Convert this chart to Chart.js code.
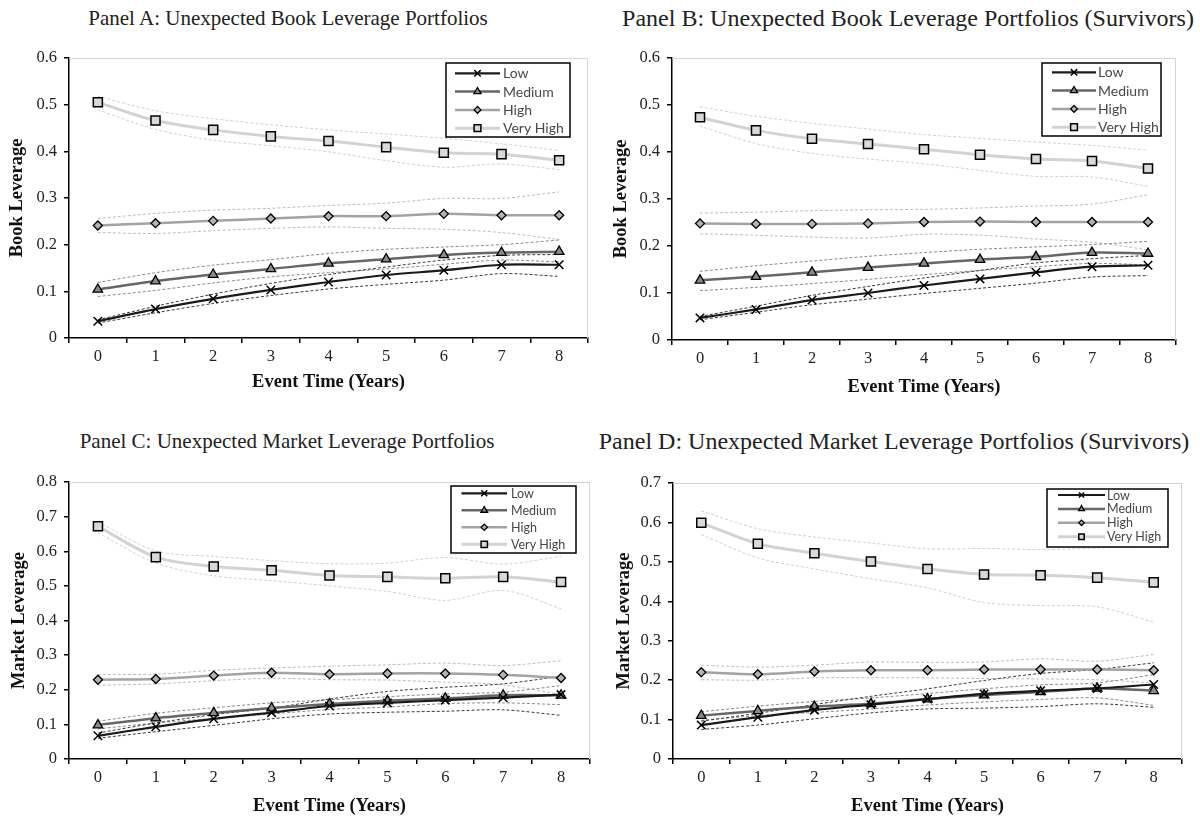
<!DOCTYPE html>
<html>
<head>
<meta charset="utf-8">
<script src="https://cdn.jsdelivr.net/npm/chart.js"></script>
<style>
  body { margin: 0; background: #fff; }
  #page { position: relative; width: 1200px; height: 820px; }
  .panel { position: absolute; width: 600px; height: 410px; }
  .ptitle { position: absolute; font-family: 'Liberation Serif', serif; font-size: 21px; color: #222;
            white-space: nowrap; transform: translate(-50%, -50%); }
  .wide { font-size: 24px; }
</style>
</head>
<body>
<div id="page">
  <div class="ptitle" style="left:288px; top:18px;">Panel A: Unexpected Book Leverage Portfolios</div>
  <div class="ptitle wide" style="left:908px; top:18px;">Panel B: Unexpected Book Leverage Portfolios (Survivors)</div>
  <div class="ptitle" style="left:287px; top:441px;">Panel C: Unexpected Market Leverage Portfolios</div>
  <div class="ptitle wide" style="left:894px; top:441px;">Panel D: Unexpected Market Leverage Portfolios (Survivors)</div>
  <div class="panel" style="left:0; top:0;"><canvas id="chartA" width="600" height="410"></canvas></div>
  <div class="panel" style="left:600px; top:0;"><canvas id="chartB" width="600" height="410"></canvas></div>
  <div class="panel" style="left:0; top:410px;"><canvas id="chartC" width="600" height="410"></canvas></div>
  <div class="panel" style="left:600px; top:410px;"><canvas id="chartD" width="600" height="410"></canvas></div>
</div>
<script>
const years = ['0', '1', '2', '3', '4', '5', '6', '7', '8'];
const seriesNames = ['Low', 'Medium', 'High', 'Very High'];

// Panel A: book leverage
const aLow    = [0.036, 0.062, 0.084, 0.103, 0.120, 0.135, 0.145, 0.157, 0.157];
const aLowUp  = [0.039, 0.068, 0.094, 0.117, 0.136, 0.152, 0.167, 0.177, 0.179];
const aLowDn  = [0.032, 0.054, 0.074, 0.091, 0.105, 0.115, 0.124, 0.138, 0.132];
const aMed    = [0.104, 0.122, 0.136, 0.148, 0.160, 0.169, 0.178, 0.183, 0.185];
const aMedUp  = [0.119, 0.140, 0.156, 0.168, 0.181, 0.190, 0.195, 0.200, 0.210];
const aMedDn  = [0.089, 0.102, 0.118, 0.131, 0.140, 0.148, 0.158, 0.167, 0.163];
const aHigh   = [0.241, 0.246, 0.251, 0.256, 0.261, 0.261, 0.266, 0.263, 0.263];
const aHighUp = [0.256, 0.267, 0.274, 0.278, 0.284, 0.289, 0.299, 0.299, 0.313];
const aHighDn = [0.226, 0.224, 0.230, 0.235, 0.238, 0.235, 0.233, 0.226, 0.211];
const aVH     = [0.505, 0.466, 0.446, 0.432, 0.422, 0.409, 0.397, 0.394, 0.381];
const aVHUp   = [0.518, 0.487, 0.470, 0.457, 0.446, 0.437, 0.428, 0.416, 0.402];
const aVHDn   = [0.489, 0.447, 0.424, 0.412, 0.399, 0.380, 0.366, 0.373, 0.361];

// Panel B: book leverage, survivors
const bLow    = [0.047, 0.065, 0.085, 0.100, 0.116, 0.130, 0.144, 0.156, 0.159];
const bLowUp  = [0.050, 0.072, 0.095, 0.114, 0.132, 0.148, 0.164, 0.173, 0.180];
const bLowDn  = [0.043, 0.059, 0.075, 0.087, 0.099, 0.110, 0.121, 0.134, 0.137];
const bMed    = [0.127, 0.135, 0.144, 0.154, 0.163, 0.171, 0.177, 0.186, 0.184];
const bMedUp  = [0.146, 0.158, 0.168, 0.178, 0.186, 0.193, 0.198, 0.203, 0.210];
const bMedDn  = [0.105, 0.112, 0.120, 0.129, 0.139, 0.148, 0.156, 0.163, 0.160];
const bHigh   = [0.248, 0.247, 0.247, 0.248, 0.251, 0.252, 0.251, 0.251, 0.251];
const bHighUp = [0.270, 0.272, 0.275, 0.277, 0.278, 0.281, 0.285, 0.289, 0.309];
const bHighDn = [0.226, 0.223, 0.219, 0.217, 0.225, 0.223, 0.215, 0.208, 0.192];
const bVH     = [0.474, 0.446, 0.428, 0.417, 0.406, 0.394, 0.385, 0.381, 0.365];
const bVHUp   = [0.496, 0.476, 0.461, 0.449, 0.437, 0.429, 0.421, 0.414, 0.404];
const bVHDn   = [0.455, 0.418, 0.397, 0.385, 0.375, 0.361, 0.348, 0.347, 0.327];

// Panel C: market leverage
const cLow    = [0.067, 0.093, 0.116, 0.134, 0.153, 0.162, 0.170, 0.177, 0.186];
const cLowUp  = [0.075, 0.104, 0.128, 0.147, 0.173, 0.195, 0.207, 0.217, 0.239];
const cLowDn  = [0.060, 0.079, 0.097, 0.116, 0.130, 0.135, 0.138, 0.142, 0.126];
const cMed    = [0.098, 0.118, 0.133, 0.147, 0.159, 0.168, 0.175, 0.184, 0.184];
const cMedUp  = [0.109, 0.132, 0.148, 0.162, 0.171, 0.180, 0.188, 0.193, 0.212];
const cMedDn  = [0.087, 0.104, 0.117, 0.130, 0.143, 0.150, 0.160, 0.162, 0.157];
const cHigh   = [0.229, 0.231, 0.241, 0.249, 0.245, 0.247, 0.247, 0.243, 0.234];
const cHighUp = [0.244, 0.245, 0.256, 0.263, 0.268, 0.272, 0.277, 0.270, 0.284];
const cHighDn = [0.213, 0.217, 0.226, 0.233, 0.229, 0.228, 0.222, 0.214, 0.186];
const cVH     = [0.672, 0.583, 0.556, 0.545, 0.530, 0.526, 0.522, 0.526, 0.511];
const cVHUp   = [0.684, 0.601, 0.585, 0.573, 0.564, 0.566, 0.582, 0.563, 0.585];
const cVHDn   = [0.653, 0.566, 0.529, 0.515, 0.500, 0.484, 0.458, 0.487, 0.434];

// Panel D: market leverage, survivors
const dLow    = [0.086, 0.106, 0.124, 0.138, 0.152, 0.165, 0.173, 0.179, 0.189];
const dLowUp  = [0.096, 0.116, 0.138, 0.159, 0.178, 0.199, 0.217, 0.227, 0.244];
const dLowDn  = [0.075, 0.086, 0.102, 0.117, 0.127, 0.129, 0.133, 0.140, 0.131];
const dMed    = [0.110, 0.122, 0.133, 0.140, 0.152, 0.162, 0.170, 0.179, 0.173];
const dMedUp  = [0.120, 0.134, 0.146, 0.155, 0.166, 0.178, 0.188, 0.193, 0.214];
const dMedDn  = [0.098, 0.110, 0.118, 0.127, 0.137, 0.145, 0.151, 0.155, 0.136];
const dHigh   = [0.220, 0.215, 0.222, 0.225, 0.225, 0.227, 0.227, 0.227, 0.225];
const dHighUp = [0.238, 0.233, 0.238, 0.246, 0.245, 0.246, 0.254, 0.248, 0.265];
const dHighDn = [0.201, 0.200, 0.206, 0.206, 0.206, 0.204, 0.203, 0.201, 0.193];
const dVH     = [0.599, 0.546, 0.522, 0.501, 0.482, 0.468, 0.466, 0.460, 0.448];
const dVHUp   = [0.629, 0.584, 0.563, 0.548, 0.533, 0.534, 0.531, 0.535, 0.539];
const dVHDn   = [0.569, 0.510, 0.482, 0.457, 0.434, 0.397, 0.389, 0.386, 0.347];

// line / marker styles per portfolio
const styles = [
  { line: '#1a1a1a', width: 2.2, band: '#3a3a3a', point: 'crossRot', radius: 6,   fill: '#000',    bw: 1.5 },
  { line: '#666666', width: 2.5, band: '#8a8a8a', point: 'triangle', radius: 5.5, fill: '#8a8a8a', bw: 1.3 },
  { line: '#a3a3a3', width: 2.5, band: '#bdbdbd', point: 'rectRot',  radius: 4.5, fill: '#b3b3b3', bw: 1.3 },
  { line: '#d3d3d3', width: 3,   band: '#d0d0d0', point: 'rect',     radius: 6.4, fill: '#d9d9d9', bw: 1.5 }
];

const frame = {
  id: 'frame',
  beforeDatasetsDraw(chart) {
    const { ctx, chartArea: a } = chart;
    ctx.save();
    ctx.strokeStyle = '#d4d4d4';
    ctx.lineWidth = 1;
    ctx.beginPath();
    ctx.moveTo(a.left, a.top + 0.5);
    ctx.lineTo(a.right - 0.5, a.top + 0.5);
    ctx.lineTo(a.right - 0.5, a.bottom);
    ctx.stroke();
    ctx.restore();
  }
};

const legendBox = {
  id: 'legendBox',
  afterDraw(chart, args, o) {
    const ctx = chart.ctx;
    ctx.save();
    ctx.fillStyle = '#fff';
    ctx.fillRect(o.x, o.y, o.w, o.h);
    ctx.strokeStyle = '#000';
    ctx.lineWidth = 1.5;
    ctx.strokeRect(o.x, o.y, o.w, o.h);
    const mains = chart.data.datasets.filter(d => d.mainSeries);
    mains.forEach((ds, i) => {
      const cy = o.y + o.first + i * o.rowH;
      ctx.setLineDash([]);
      ctx.strokeStyle = ds.borderColor;
      ctx.lineWidth = ds.borderWidth;
      ctx.beginPath();
      ctx.moveTo(o.x + o.x1, cy);
      ctx.lineTo(o.x + o.x2, cy);
      ctx.stroke();
      ctx.fillStyle = ds.pointBackgroundColor;
      ctx.strokeStyle = ds.pointBorderColor;
      ctx.lineWidth = ds.pointBorderWidth;
      Chart.helpers.drawPoint(ctx, {
        pointStyle: ds.pointStyle, rotation: 0,
        radius: ds.pointRadius * o.mk, borderWidth: ds.pointBorderWidth
      }, o.x + (o.x1 + o.x2) / 2, cy);
      ctx.fillStyle = '#474747';
      ctx.font = o.font;
      ctx.textBaseline = 'middle';
      ctx.textAlign = 'left';
      ctx.fillText(ds.label, o.x + o.tx, cy + 0.5);
    });
    ctx.restore();
  }
};

function buildDatasets(mains, ups, dns) {
  const sets = [];
  mains.forEach((vals, i) => {
    const s = styles[i];
    sets.push({
      label: seriesNames[i], data: vals, mainSeries: true, order: 0,
      borderColor: s.line, borderWidth: s.width, tension: 0.3,
      pointStyle: s.point, pointRadius: s.radius, pointBackgroundColor: s.fill,
      pointBorderColor: '#000', pointBorderWidth: s.bw
    });
  });
  mains.forEach((vals, i) => {
    [ups[i], dns[i]].forEach(band => {
      sets.push({
        label: seriesNames[i] + ' band', data: band, order: 10,
        borderColor: styles[i].band, borderWidth: 1, borderDash: [3, 2],
        tension: 0.3, pointRadius: 0
      });
    });
  });
  return sets;
}

const serif = 'Liberation Serif';

function makeChart(id, p) {
  new Chart(document.getElementById(id), {
    type: 'line',
    data: { labels: years, datasets: buildDatasets(p.mains, p.ups, p.dns) },
    options: {
      responsive: false,
      animation: false,
      layout: { padding: { top: p.padTop, right: p.padRight, left: 0, bottom: 0 } },
      plugins: {
        legend: { display: false },
        tooltip: { enabled: false },
        legendBox: p.legend
      },
      scales: {
        x: {
          type: 'category',
          offset: true,
          afterFit(s) { s.height = p.xHeight; },
          grid: { offset: true, drawOnChartArea: false, drawTicks: true, tickLength: 5, color: '#000', lineWidth: 1.5 },
          border: { color: '#000', width: 1.5 },
          ticks: { color: '#222', padding: 4, maxRotation: 0, font: { family: serif, size: 16.5 } },
          title: { display: true, text: 'Event Time (Years)', color: '#111',
                   padding: { top: 0, bottom: p.xTitlePad }, font: { family: serif, size: 18.5, weight: 'bold' } }
        },
        y: {
          min: 0, max: p.yMax,
          afterFit(s) { s.width = p.yWidth; },
          grid: { drawOnChartArea: false, drawTicks: true, tickLength: 5, color: '#000', lineWidth: 1.5 },
          border: { color: '#000', width: 1.5 },
          ticks: { stepSize: 0.1, color: '#222', padding: 7, font: { family: serif, size: 16.5 },
                   callback: v => String(Math.round(v * 10) / 10) },
          title: { display: true, text: p.yTitle, color: '#111',
                   padding: { top: p.yTitlePad, bottom: 0 }, font: { family: serif, size: 18.5, weight: 'bold' } }
        }
      }
    },
    plugins: [frame, legendBox]
  });
}

makeChart('chartA', {
  mains: [aLow, aMed, aHigh, aVH], ups: [aLowUp, aMedUp, aHighUp, aVHUp], dns: [aLowDn, aMedDn, aHighDn, aVHDn],
  yMax: 0.6, yTitle: 'Book Leverage', padTop: 58, padRight: 12, yWidth: 69, xHeight: 72, xTitlePad: 17, yTitlePad: 6,
  legend: { x: 446, y: 63, w: 124, h: 74, first: 10.3, rowH: 18.3, x1: 9, x2: 54, tx: 57, mk: 0.75, font: '14px Lato' }
});
makeChart('chartB', {
  mains: [bLow, bMed, bHigh, bVH], ups: [bLowUp, bMedUp, bHighUp, bVHUp], dns: [bLowDn, bMedDn, bHighDn, bVHDn],
  yMax: 0.6, yTitle: 'Book Leverage', padTop: 58, padRight: 24, yWidth: 72, xHeight: 70, xTitlePad: 12, yTitlePad: 10,
  legend: { x: 442, y: 63, w: 119, h: 73, first: 9.3, rowH: 18.3, x1: 10, x2: 54, tx: 56, mk: 0.75, font: '14px Lato' }
});
makeChart('chartC', {
  mains: [cLow, cMed, cHigh, cVH], ups: [cLowUp, cMedUp, cHighUp, cVHUp], dns: [cLowDn, cMedDn, cHighDn, cVHDn],
  yMax: 0.8, yTitle: 'Market Leverage', padTop: 72, padRight: 10, yWidth: 69, xHeight: 61, xTitlePad: 3, yTitlePad: 8,
  legend: { x: 451, y: 76, w: 125, h: 67, first: 7.3, rowH: 17, x1: 10.5, x2: 56, tx: 60, mk: 0.7, font: '12.5px Lato' }
});
makeChart('chartD', {
  mains: [dLow, dMed, dHigh, dVH], ups: [dLowUp, dMedUp, dHighUp, dVHUp], dns: [dLowDn, dMedDn, dHighDn, dVHDn],
  yMax: 0.7, yTitle: 'Market Leverage', padTop: 73, padRight: 18, yWidth: 73, xHeight: 61, xTitlePad: 3, yTitlePad: 13,
  legend: { x: 447, y: 79, w: 121, h: 58, first: 6, rowH: 13.9, x1: 11, x2: 58, tx: 60, mk: 0.6, font: '12.5px Lato' }
});
</script>
</body>
</html>
